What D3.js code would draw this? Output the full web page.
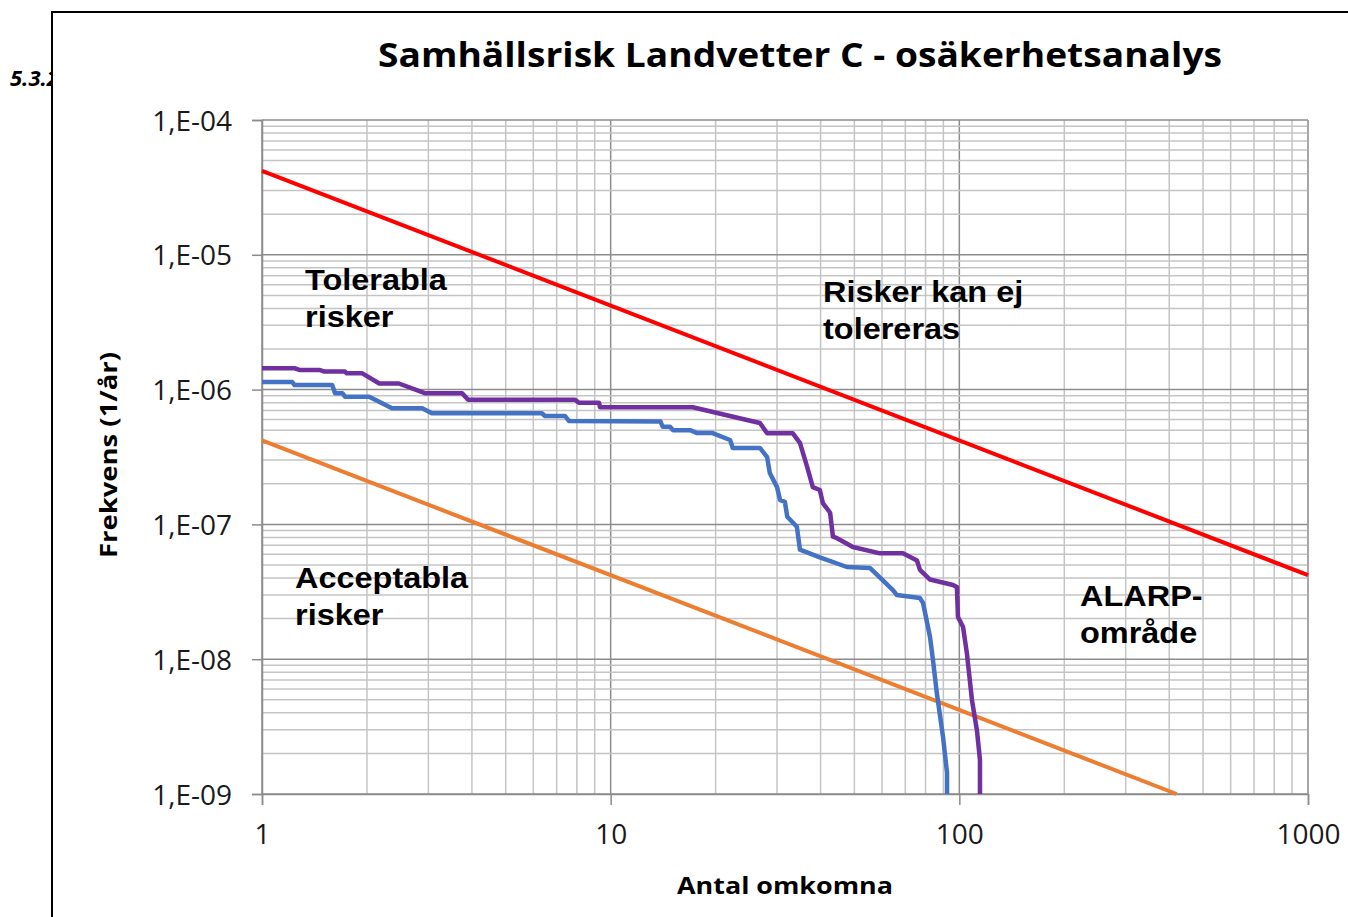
<!DOCTYPE html>
<html>
<head>
<meta charset="utf-8">
<script src="https://cdn.jsdelivr.net/npm/d3@7"></script>
<style>
  body { margin: 0; background: #fff; }
  text { font-family: "Open Sans", "DejaVu Sans", sans-serif; }
  .note { font-family: "Liberation Sans", Arial, sans-serif; font-weight: bold; font-size: 29px; }
</style>
</head>
<body>
<svg id="chart" width="1348" height="917"></svg>
<script>
// axis ranges
var xDomain = [1, 1000];
var yDomain = [1e-9, 1e-4];
var xTickLabels = ["1", "10", "100", "1000"];
var yTickLabels = ["1,E-09", "1,E-08", "1,E-07", "1,E-06", "1,E-05", "1,E-04"];

// criteria lines (F = c / N)
var upperLimitN = [1, 1000];
var upperLimitF = [4.2e-5, 4.2e-8];
var lowerLimitN = [1, 420];
var lowerLimitF = [4.2e-7, 1.0e-9];

// FN curve, upper (purple)
var purpleN = [1, 1.24, 1.28, 1.46, 1.51, 1.73, 1.75, 1.94, 2.17, 2.47, 2.93, 3.75, 3.9, 7.9, 8.1, 9.26,
  9.32, 17.2, 24.6, 26.8, 28.1, 33.3, 34.9, 36.6, 38.0, 39.8, 40.6, 42.6, 43.4, 44.6, 49.5, 59.2, 68.9,
  75.6, 77.1, 82.4, 95.9, 98.4, 99.1, 102.5, 105.1, 108.7, 112.3, 114.6, 114.6];
var purpleF = [1.44e-6, 1.44e-6, 1.40e-6, 1.40e-6, 1.36e-6, 1.36e-6, 1.32e-6, 1.32e-6, 1.11e-6, 1.11e-6,
  9.4e-7, 9.4e-7, 8.4e-7, 8.4e-7, 8.0e-7, 8.0e-7, 7.4e-7, 7.4e-7, 5.95e-7, 5.65e-7, 4.74e-7, 4.74e-7,
  4.02e-7, 2.67e-7, 1.89e-7, 1.80e-7, 1.44e-7, 1.22e-7, 8.1e-8, 7.9e-8, 6.8e-8, 6.1e-8, 6.1e-8, 5.4e-8,
  4.6e-8, 3.9e-8, 3.55e-8, 3.43e-8, 2.06e-8, 1.73e-8, 1.11e-8, 4.98e-9, 2.98e-9, 1.79e-9, 1.0e-9];

// FN curve, lower (blue)
var blueN = [1, 1.22, 1.24, 1.59, 1.62, 1.70, 1.73, 2.03, 2.36, 2.88, 3.07, 6.35, 6.48, 7.40, 7.59, 13.9,
  14.1, 14.8, 15.1, 16.9, 17.7, 19.6, 22.0, 22.4, 26.8, 28.1, 28.6, 30.0, 30.6, 31.6, 32.1, 34.2, 34.9,
  39.8, 47.6, 55.4, 64.5, 66.2, 77.1, 78.7, 82.4, 84.0, 86.2, 89.8, 92.2, 92.2];
var blueF = [1.14e-6, 1.14e-6, 1.08e-6, 1.08e-6, 9.4e-7, 9.4e-7, 8.86e-7, 8.86e-7, 7.26e-7, 7.26e-7,
  6.67e-7, 6.67e-7, 6.37e-7, 6.37e-7, 5.85e-7, 5.8e-7, 5.3e-7, 5.3e-7, 5.0e-7, 5.0e-7, 4.76e-7, 4.76e-7,
  4.23e-7, 3.69e-7, 3.69e-7, 3.16e-7, 2.41e-7, 1.89e-7, 1.52e-7, 1.47e-7, 1.14e-7, 9.6e-8, 6.5e-8,
  5.7e-8, 4.83e-8, 4.75e-8, 3.26e-8, 2.99e-8, 2.84e-8, 2.61e-8, 1.46e-8, 9.9e-9, 5.6e-9, 2.65e-9,
  1.43e-9, 1.0e-9];

var svg = d3.select("#chart");

// section number peeking out from behind the frame
svg.append("text")
    .attr("x", 10).attr("y", 86)
    .attr("font-family", "Liberation Sans, Arial, sans-serif")
    .attr("font-weight", "bold").attr("font-style", "italic")
    .attr("font-size", 22)
    .style("font-size", "22px")
    .text("5.3.2");

svg.append("rect")
    .attr("x", 52).attr("y", 12)
    .attr("width", 1400).attr("height", 1000)
    .style("fill", "#fff").style("stroke", "#000").style("stroke-width", 2);

var x = d3.scaleLog().domain(xDomain).range([262, 1308]);
var y = d3.scaleLog().domain(yDomain).range([794, 120]);

function isMajor(v) {
    var m = v / Math.pow(10, Math.floor(Math.log10(v) + 1e-9));
    return Math.abs(m - 1) < 1e-6;
}

// grid
var grid = svg.append("g");
grid.selectAll(".vx").data(x.ticks())
    .enter().append("line")
    .attr("x1", function (d) { return x(d); }).attr("x2", function (d) { return x(d); })
    .attr("y1", 120).attr("y2", 794)
    .style("stroke", function (d) { return isMajor(d) ? "#8c8c8c" : "#c4c4c4"; })
    .style("stroke-width", 1.5);
grid.selectAll(".hy").data(y.ticks())
    .enter().append("line")
    .attr("y1", function (d) { return y(d); }).attr("y2", function (d) { return y(d); })
    .attr("x1", 262).attr("x2", 1308)
    .style("stroke", function (d) { return isMajor(d) ? "#8c8c8c" : "#c4c4c4"; })
    .style("stroke-width", 1.5);
grid.append("line").attr("x1", 1308).attr("x2", 1308).attr("y1", 120).attr("y2", 794)
    .style("stroke", "#a6a6a6").style("stroke-width", 1.5);

// axes
var xMajor = xTickLabels.map(Number);
var xAxis = d3.axisBottom(x).tickValues(xMajor).tickSize(11).tickPadding(19)
    .tickFormat(function (d, i) { return xTickLabels[i]; });
var gx = svg.append("g").attr("transform", "translate(0,794)").call(xAxis);

var yMajor = d3.range(-9, -3).map(function (e) { return Math.pow(10, e); });
var yAxis = d3.axisLeft(y).tickValues(yMajor).tickSize(10).tickPadding(20)
    .tickFormat(function (d, i) { return yTickLabels[i]; });
var gy = svg.append("g").attr("transform", "translate(262,0)").call(yAxis);

[gx, gy].forEach(function (g) {
    g.select(".domain").style("stroke", "#8c8c8c").style("stroke-width", 1.5);
    g.selectAll(".tick line").style("stroke", "#8c8c8c").style("stroke-width", 1.5);
    g.selectAll(".tick text").style("font-size", "28px").style("fill", "#1a1a1a")
        .style("font-family", "Open Sans, sans-serif");
});
gy.selectAll(".tick text").attr("dy", "0.36em");

// series
var line = d3.line()
    .x(function (d) { return x(d[0]); })
    .y(function (d) { return y(d[1]); });

function drawSeries(ns, fs, color, width) {
    svg.append("path")
        .datum(d3.zip(ns, fs))
        .attr("d", line)
        .style("fill", "none")
        .style("stroke", color)
        .style("stroke-width", width)
        .style("stroke-linejoin", "round");
}

drawSeries(lowerLimitN, lowerLimitF, "#ed7d31", 4);
drawSeries(upperLimitN, upperLimitF, "#ff0000", 4);
drawSeries(blueN, blueF, "#4472c4", 4.5);
drawSeries(purpleN, purpleF, "#7030a0", 4.5);

// region notes (the source picture is stretched a little sideways)
function note(lines, nx, ny) {
    var t = svg.append("text").attr("class", "note")
        .attr("transform", "translate(" + nx + "," + ny + ") scale(1.12,1)");
    lines.forEach(function (s, i) {
        t.append("tspan").attr("x", 0).attr("y", i * 37).text(s);
    });
}
note(["Tolerabla", "risker"], 305, 290);
note(["Risker kan ej", "tolereras"], 823, 302);
note(["Acceptabla", "risker"], 295, 588);
note(["ALARP-", "område"], 1080, 606);

// titles
svg.append("text")
    .attr("x", 800).attr("y", 67)
    .attr("text-anchor", "middle")
    .attr("textLength", 844).attr("lengthAdjust", "spacingAndGlyphs")
    .style("font-weight", "bold").style("font-size", "34px")
    .text("Samhällsrisk Landvetter C - osäkerhetsanalys");

svg.append("text")
    .attr("x", 785).attr("y", 894)
    .attr("text-anchor", "middle")
    .attr("textLength", 216).attr("lengthAdjust", "spacingAndGlyphs")
    .style("font-weight", "bold").style("font-size", "24px")
    .text("Antal omkomna");

svg.append("text")
    .attr("transform", "translate(117,455) rotate(-90)")
    .attr("text-anchor", "middle")
    .attr("textLength", 206).attr("lengthAdjust", "spacingAndGlyphs")
    .style("font-weight", "bold").style("font-size", "24px")
    .text("Frekvens (1/år)");
</script>
</body>
</html>
